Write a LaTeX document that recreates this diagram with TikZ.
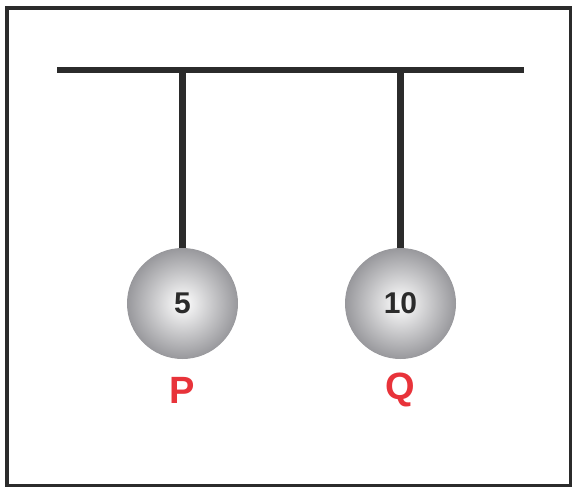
\documentclass[tikz,border=0pt]{standalone}
\usepackage{fontspec}
\setmainfont{Liberation Sans}
\definecolor{ink}{HTML}{2B2B2B}
\definecolor{lab}{HTML}{E8333A}
\definecolor{ballout}{HTML}{98989C}
\begin{document}
\begin{tikzpicture}[x=1pt,y=-1pt,
  rod/.style={draw=ink,line width=6.5pt},
  ball/.style={circle,minimum size=111pt,inner sep=0pt,inner color=white,outer color=ballout,font=\fontsize{30}{30}\selectfont\bfseries,text=ink},
  lbl/.style={font=\fontsize{38}{38}\selectfont\bfseries,text=lab}]
\useasboundingbox (0,0) rectangle (573,487);
\draw[draw=ink,line width=3.5pt] (7,8) rectangle (570.5,486);
\coordinate (bl) at (57,70);
\coordinate (br) at (524,70);
\draw[rod] (bl) -- (br);
\coordinate (tp) at (182.5,70);
\coordinate (tq) at (400.5,70);
\node[ball] (p) at (182.5,303.5) {5};
\node[ball] (q) at (400.5,303.5) {10};
\draw[rod] (tp) -- (p.north);
\draw[rod] (tq) -- (q.north);
\node[lbl] (P) at (182,390) {P};
\node[lbl] (Q) at (400,390) {Q};
\end{tikzpicture}
\end{document}
